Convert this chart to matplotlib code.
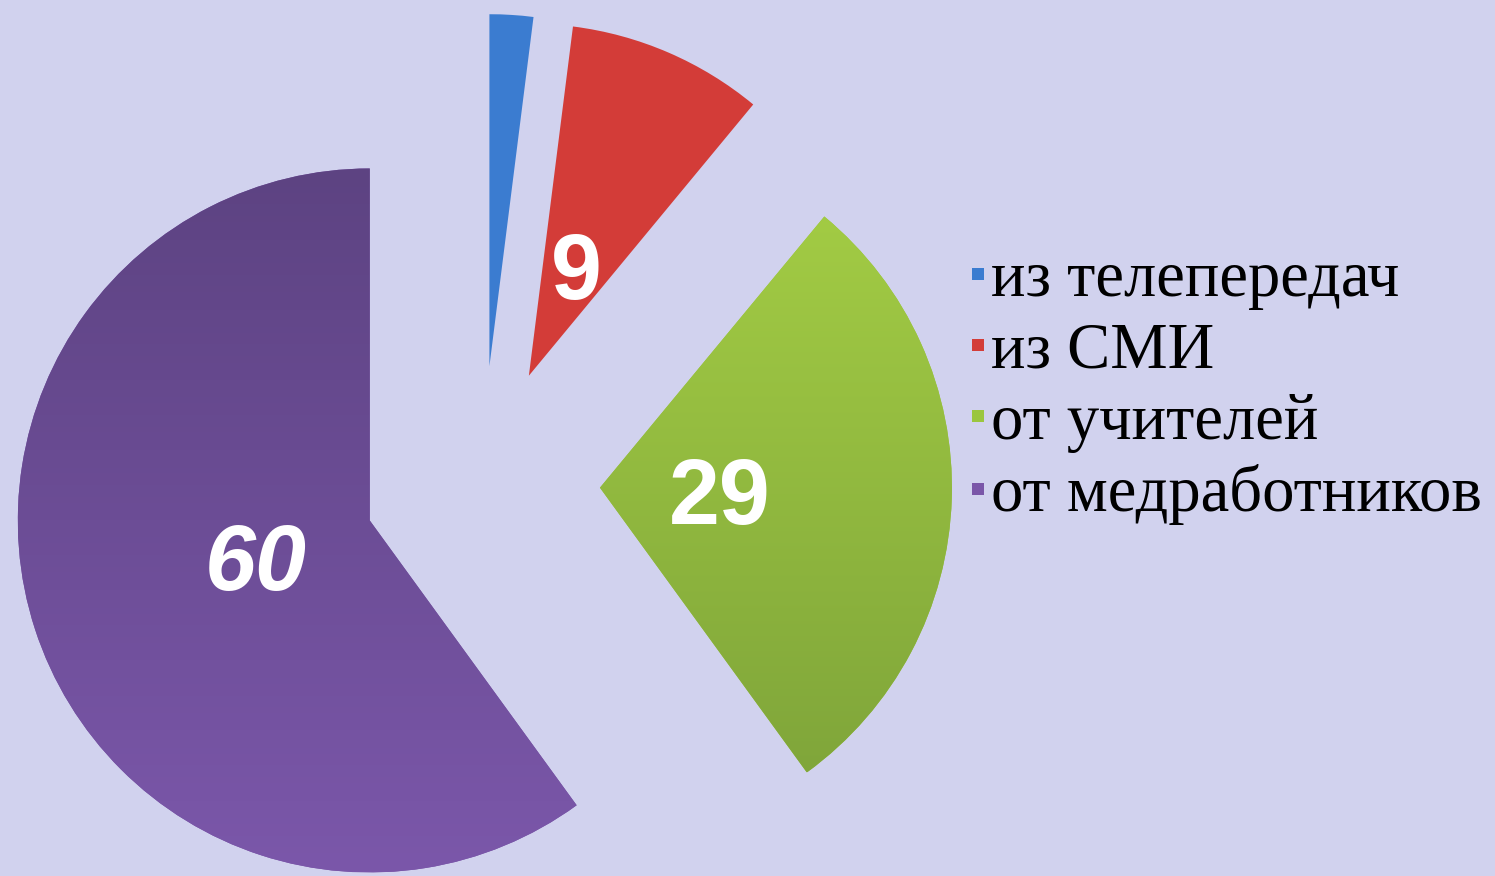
import numpy as np
import matplotlib
matplotlib.use("Agg")
import matplotlib.pyplot as plt
from matplotlib.colors import LinearSegmentedColormap
from matplotlib.lines import Line2D

# данные диаграммы
labels = ["из телепередач", "из СМИ", "от учителей", "от медработников"]
values = [2, 9, 29, 60]
shown = ["", "9", "29", "60"]  # подписи на секторах
italic = [False, False, False, True]

colors = ["#3B7CD0", "#D33C38", "#9BC63F", "#7A56A8"]
grad_top = ["#3B7CD0", "#D33C38", "#A2CB44", "#5D4382"]
grad_bot = ["#3B7CD0", "#D33C38", "#80A63A", "#7B57AA"]
bg = "#D1D2EE"

W, H = 1495, 876
fig = plt.figure(figsize=(W / 100, H / 100), dpi=100, facecolor=bg)
ax = fig.add_axes([0, 0, 1, 1])
ax.set_facecolor(bg)

R = 352  # радиус в пикселях
cx, cy = 482, H - 484  # центр пирога
expl = 118  # смещение секторов

wedges, _ = ax.pie(values, radius=R, center=(cx, cy), startangle=90, counterclock=False,
                   explode=[expl] * len(values), colors=colors, frame=True,
                   wedgeprops=dict(linewidth=0))

# градиентная заливка секторов
for w, c1, c2 in zip(wedges, grad_top, grad_bot):
    if c1 == c2:
        continue
    bb = w.get_path().get_extents(w.get_patch_transform())
    cmap = LinearSegmentedColormap.from_list("g", [c2, c1])
    grad = np.linspace(0, 1, 256).reshape(-1, 1)
    im = ax.imshow(grad, cmap=cmap, origin="lower", aspect="auto",
                   extent=[bb.x0, bb.x1, bb.y0, bb.y1], zorder=w.get_zorder() + 0.1)
    im.set_clip_path(w)

# подписи значений
fs = 66
for w, txt, it in zip(wedges, shown, italic):
    if not txt:
        continue
    ang = np.deg2rad((w.theta1 + w.theta2) / 2)
    x = w.center[0] + 0.34 * R * np.cos(ang)
    y = w.center[1] + 0.34 * R * np.sin(ang)
    # центр цифр, а не рамки текста
    ax.text(x, y - 0.358 * fs * 100 / 72, txt, ha="center", va="baseline", color="white",
            fontsize=fs, fontweight="bold", fontstyle="italic" if it else "normal",
            family="Liberation Sans", zorder=10)

handles = [Line2D([], [], marker="s", linestyle="none", markersize=8.5,
                  markerfacecolor=c, markeredgewidth=0) for c in colors]
leg = ax.legend(handles, labels, loc="center left", bbox_to_anchor=(968 / W, 1 - 388 / H),
                bbox_transform=fig.transFigure, frameon=False,
                prop=dict(family="Liberation Serif", size=46.5),
                handlelength=0.32, handletextpad=0.04,
                labelspacing=0.18, borderpad=0, borderaxespad=0)

ax.set_xlim(0, W)
ax.set_ylim(0, H)
ax.set_aspect("equal")
ax.axis("off")

fig.savefig("out.png", dpi=100, facecolor=bg)
